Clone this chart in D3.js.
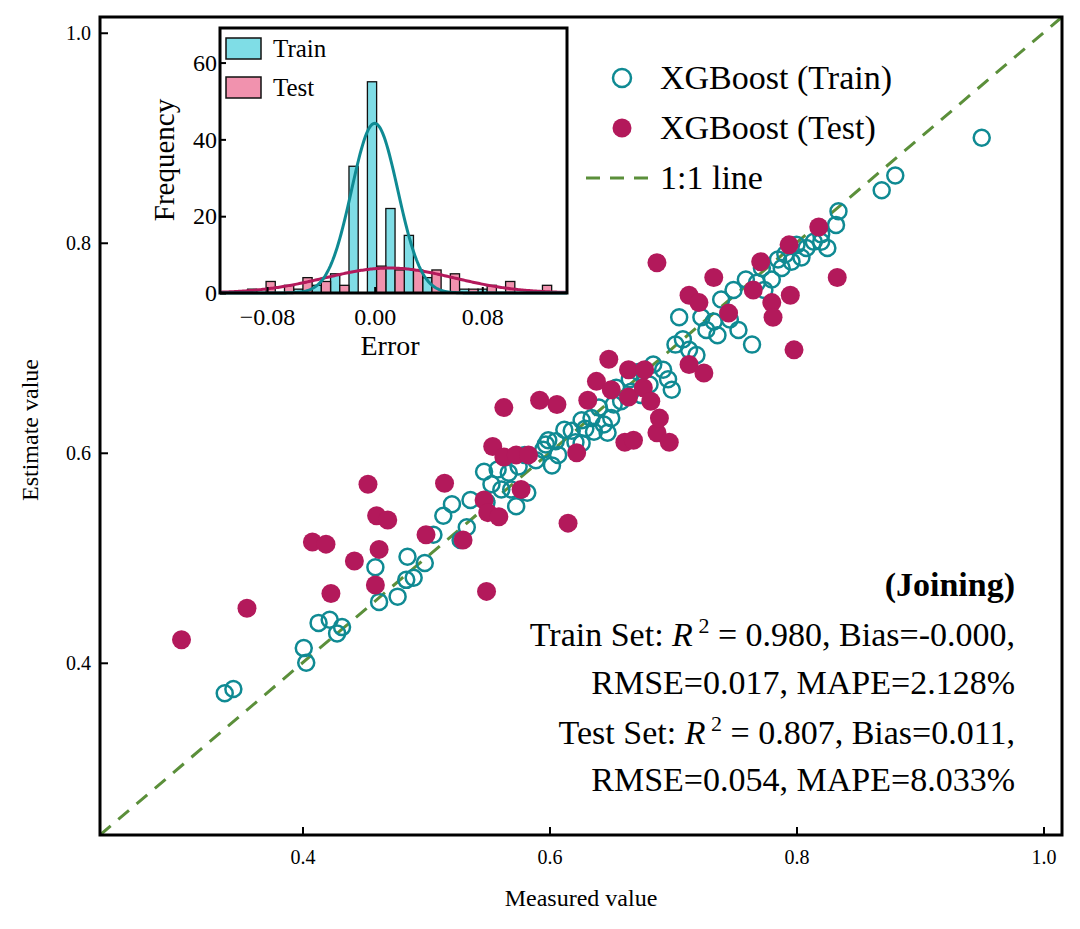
<!DOCTYPE html>
<html><head><meta charset="utf-8">
<script src="https://cdn.jsdelivr.net/npm/d3@7"></script>
<style>body{margin:0;background:#fff}svg, svg text{font-family:"Liberation Serif","Times New Roman","DejaVu Serif",serif !important}</style>
</head><body><div id="container"></div>
<script>
const trainPts = [[0.337,0.371],[0.344,0.375],[0.401,0.414],[0.403,0.400],[0.413,0.438],[0.422,0.441],[0.428,0.428],[0.432,0.434],[0.459,0.491],[0.462,0.458],[0.477,0.463],[0.484,0.479],[0.490,0.481],[0.485,0.501],[0.499,0.495],[0.506,0.522],[0.514,0.540],[0.521,0.551],[0.528,0.517],[0.533,0.529],[0.536,0.555],[0.547,0.582],[0.553,0.570],[0.558,0.584],[0.561,0.565],[0.567,0.581],[0.573,0.549],[0.575,0.587],[0.582,0.562],[0.580,0.598],[0.589,0.593],[0.595,0.603],[0.599,0.612],[0.602,0.588],[0.605,0.611],[0.607,0.598],[0.618,0.621],[0.621,0.610],[0.626,0.631],[0.629,0.623],[0.634,0.633],[0.636,0.620],[0.640,0.643],[0.644,0.627],[0.647,0.619],[0.652,0.646],[0.658,0.649],[0.665,0.670],[0.666,0.658],[0.674,0.655],[0.681,0.665],[0.684,0.684],[0.692,0.679],[0.696,0.670],[0.699,0.660],[0.702,0.703],[0.705,0.729],[0.708,0.708],[0.713,0.698],[0.719,0.693],[0.727,0.717],[0.733,0.725],[0.736,0.712],[0.739,0.746],[0.746,0.727],[0.749,0.755],[0.753,0.717],[0.759,0.765],[0.764,0.703],[0.768,0.762],[0.774,0.755],[0.780,0.765],[0.785,0.784],[0.791,0.789],[0.796,0.782],[0.800,0.798],[0.804,0.786],[0.808,0.795],[0.814,0.801],[0.820,0.808],[0.825,0.795],[0.832,0.817],[0.834,0.830],[0.869,0.850],[0.880,0.864],[0.950,0.900],[0.597,0.608],[0.612,0.622],[0.650,0.633],[0.672,0.677],[0.723,0.729],[0.772,0.776],[0.788,0.776],[0.820,0.801],[0.654,0.662],[0.626,0.609],[0.549,0.553],[0.569,0.565]];
const testPts = [[0.302,0.422],[0.355,0.452],[0.408,0.515],[0.419,0.513],[0.423,0.466],[0.442,0.497],[0.453,0.570],[0.460,0.540],[0.459,0.474],[0.462,0.508],[0.469,0.536],[0.500,0.522],[0.515,0.571],[0.530,0.517],[0.547,0.555],[0.550,0.543],[0.559,0.539],[0.549,0.468],[0.554,0.606],[0.563,0.643],[0.563,0.596],[0.573,0.598],[0.577,0.565],[0.583,0.598],[0.592,0.650],[0.606,0.646],[0.622,0.600],[0.615,0.533],[0.631,0.650],[0.638,0.668],[0.648,0.689],[0.650,0.660],[0.661,0.610],[0.668,0.612],[0.664,0.679],[0.664,0.653],[0.677,0.679],[0.676,0.662],[0.682,0.649],[0.687,0.619],[0.689,0.633],[0.697,0.610],[0.687,0.781],[0.733,0.767],[0.713,0.750],[0.721,0.743],[0.745,0.733],[0.765,0.755],[0.771,0.782],[0.794,0.798],[0.818,0.815],[0.833,0.767],[0.795,0.750],[0.780,0.743],[0.781,0.729],[0.798,0.698],[0.713,0.684],[0.725,0.676]];
const mainTicks = [0.4, 0.6, 0.8, 1.0];
// histogram bins: index k, left edge = binStart + k*binWidth
const binStart = -0.0054, binWidth = 0.0137;
const trainHist = [[-5,0],[-4,1],[-3,2],[-2,5],[-1,33],[0,55],[1,22],[2,15],[3,4],[5,1],[6,1]];
const testHist = [[-6,3],[-5,2],[-4,4],[-3,3],[-2,2],[-7,1],[0,7],[1,6],[2,6],[3,6],[4,5],[5,1],[6,2],[7,3],[9,2]];
const trainFit = {n: 139, mean: 0.0, sd: 0.0172};
const testFit = {n: 57, mean: 0.011, sd: 0.048};
const insetXTicks = [-0.08, 0, 0.08];
const insetYTicks = [0, 20, 40, 60];

const W = 1080, H = 929;
const serif = '"Liberation Serif","Times New Roman","DejaVu Serif",serif';
const teal = '#0f8a93', berry = '#b3195b', green = '#5b8f3a';
const svg = d3.select('#container').append('svg').attr('width', W).attr('height', H).attr('font-family', serif);

const x = d3.scaleLinear([0.236, 1.015], [100, 1062]);
const y = d3.scaleLinear([0.236, 1.015], [835, 17]);

// 1:1 line
svg.append('line').attr('x1', x(0.236)).attr('y1', y(0.236)).attr('x2', x(1.015)).attr('y2', y(1.015))
  .attr('stroke', green).attr('stroke-width', 3).attr('stroke-dasharray', '14,10');

svg.append('g').selectAll('circle').data(trainPts).join('circle')
  .attr('cx', d => x(d[0])).attr('cy', d => y(d[1])).attr('r', 8)
  .attr('fill', 'none').attr('stroke', teal).attr('stroke-width', 2.5);
svg.append('g').selectAll('circle').data(testPts).join('circle')
  .attr('cx', d => x(d[0])).attr('cy', d => y(d[1])).attr('r', 9.5).attr('fill', berry);

const ax = svg.append('g').attr('transform', `translate(0,835)`)
  .call(d3.axisBottom(x).tickValues(mainTicks).tickFormat(d3.format('.1f')).tickSizeInner(-8).tickSizeOuter(0));
const ay = svg.append('g').attr('transform', `translate(100,0)`)
  .call(d3.axisLeft(y).tickValues(mainTicks).tickFormat(d3.format('.1f')).tickSizeInner(-8).tickSizeOuter(0));
[ax, ay].forEach(g => {
  g.attr('font-family', serif);
  g.select('.domain').remove();
  g.selectAll('line').attr('stroke-width', 2);
  g.selectAll('text').attr('font-size', 20).attr('fill', '#000');
});
ax.selectAll('text').attr('dy', '1.3em');
ay.selectAll('text').attr('dx', '-0.3em');
svg.append('rect').attr('x', 100).attr('y', 17).attr('width', 962).attr('height', 818)
  .attr('fill', 'none').attr('stroke', '#000').attr('stroke-width', 3);

svg.append('text').attr('x', 581).attr('y', 906).attr('text-anchor', 'middle').attr('font-size', 24).text('Measured value');
svg.append('text').attr('transform', 'translate(38,430) rotate(-90)').attr('text-anchor', 'middle').attr('font-size', 24).text('Estimate value');

// legend
const leg = svg.append('g');
leg.append('circle').attr('cx', 622).attr('cy', 78).attr('r', 9).attr('fill', 'none').attr('stroke', teal).attr('stroke-width', 2.5);
leg.append('circle').attr('cx', 622).attr('cy', 128).attr('r', 9.5).attr('fill', berry);
leg.append('line').attr('x1', 586).attr('x2', 656).attr('y1', 178).attr('y2', 178).attr('stroke', green).attr('stroke-width', 3).attr('stroke-dasharray', '14,10');
[['XGBoost (Train)', 78], ['XGBoost (Test)', 128], ['1:1 line', 178]].forEach(([t, yy]) =>
  leg.append('text').attr('x', 660).attr('y', yy + 11).attr('font-size', 34).text(t));

// annotation
const ann = svg.append('g').attr('text-anchor', 'end').attr('font-size', 34);
ann.append('text').attr('x', 1015).attr('y', 596).attr('font-weight', 'bold').text('(Joining)');
function statLine(yy, label, r2, bias) {
  const t = ann.append('text').attr('x', 1015).attr('y', yy);
  t.append('tspan').text(label + ': ');
  t.append('tspan').attr('font-style', 'italic').text('R');
  t.append('tspan').attr('font-size', 22).attr('dy', -13).text(' 2');
  t.append('tspan').attr('dy', 13).text(' = ' + r2 + ', Bias=' + bias + ',');
}
statLine(646, 'Train Set', '0.980', '-0.000');
ann.append('text').attr('x', 1015).attr('y', 694).text('RMSE=0.017, MAPE=2.128%');
statLine(744, 'Test Set', '0.807', '0.011');
ann.append('text').attr('x', 1015).attr('y', 791).text('RMSE=0.054, MAPE=8.033%');

// inset histogram
const ix = d3.scaleLinear([-0.115, 0.143], [220, 567]);
const iy = d3.scaleLinear([0, 69], [293, 28]);
const ins = svg.append('g');
ins.append('rect').attr('x', 220).attr('y', 28).attr('width', 347).attr('height', 265).attr('fill', '#fff');
const half = binWidth / 2;
ins.append('g').selectAll('rect').data(trainHist.filter(d => d[1] > 0)).join('rect')
  .attr('x', d => ix(binStart + d[0] * binWidth)).attr('width', d => ix(half) - ix(0))
  .attr('y', d => iy(d[1])).attr('height', d => iy(0) - iy(d[1]))
  .attr('fill', '#7fdde6').attr('stroke', '#111').attr('stroke-width', 1.3);
ins.append('g').selectAll('rect').data(testHist.filter(d => d[1] > 0)).join('rect')
  .attr('x', d => ix(binStart + d[0] * binWidth + half)).attr('width', d => ix(half) - ix(0))
  .attr('y', d => iy(d[1])).attr('height', d => iy(0) - iy(d[1]))
  .attr('fill', '#f192ae').attr('stroke', '#111').attr('stroke-width', 1.3);
function fitCurve(f, col) {
  const xs = d3.range(-0.115, 0.1431, 0.001);
  const pdf = v => f.n * binWidth / (f.sd * Math.sqrt(2 * Math.PI)) * Math.exp(-0.5 * ((v - f.mean) / f.sd) ** 2);
  ins.append('path').datum(xs).attr('fill', 'none').attr('stroke', col).attr('stroke-width', 3)
    .attr('d', d3.line().x(v => ix(v)).y(v => iy(pdf(v))));
}
fitCurve(testFit, berry);
fitCurve(trainFit, teal);
const iax = ins.append('g').attr('transform', 'translate(0,293)')
  .call(d3.axisBottom(ix).tickValues(insetXTicks).tickFormat(d3.format('.2f')).tickSizeInner(-6).tickSizeOuter(0));
const iay = ins.append('g').attr('transform', 'translate(220,0)')
  .call(d3.axisLeft(iy).tickValues(insetYTicks).tickSizeInner(-6).tickSizeOuter(0));
[iax, iay].forEach(g => {
  g.attr('font-family', serif);
  g.select('.domain').remove();
  g.selectAll('line').attr('stroke-width', 2);
  g.selectAll('text').attr('font-size', 24).attr('fill', '#000');
});
iax.selectAll('text').attr('dy', '1.2em');
ins.append('rect').attr('x', 220).attr('y', 28).attr('width', 347).attr('height', 265)
  .attr('fill', 'none').attr('stroke', '#000').attr('stroke-width', 3);
ins.append('text').attr('x', 390).attr('y', 355).attr('text-anchor', 'middle').attr('font-size', 28).text('Error');
ins.append('text').attr('transform', 'translate(174,160) rotate(-90)').attr('text-anchor', 'middle').attr('font-size', 29).text('Frequency');
ins.append('rect').attr('x', 226).attr('y', 38).attr('width', 35).attr('height', 21).attr('fill', '#7fdde6').attr('stroke', '#111').attr('stroke-width', 1.5);
ins.append('rect').attr('x', 226).attr('y', 77).attr('width', 35).attr('height', 21).attr('fill', '#f192ae').attr('stroke', '#111').attr('stroke-width', 1.5);
ins.append('text').attr('x', 273).attr('y', 57).attr('font-size', 25).text('Train');
ins.append('text').attr('x', 273).attr('y', 96).attr('font-size', 25).text('Test');
</script></body></html>
